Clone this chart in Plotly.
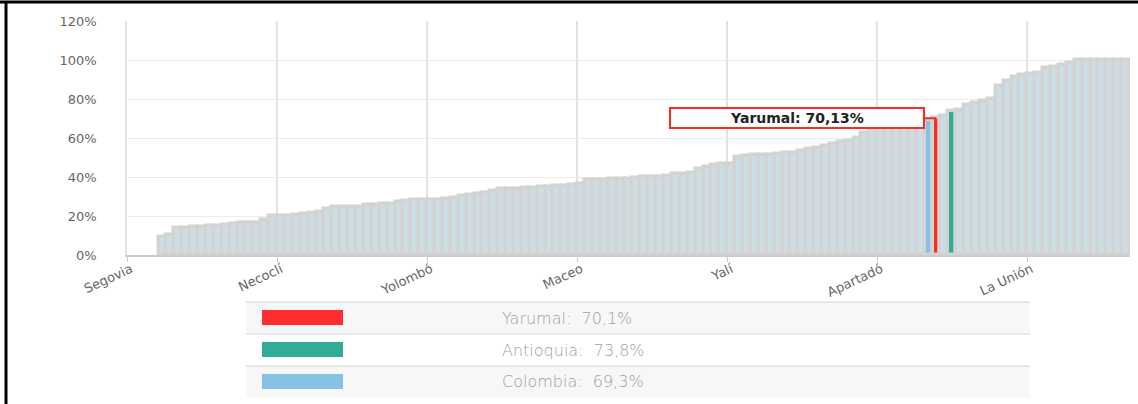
import plotly.graph_objects as go

# Percent per municipality, sorted ascending
values = [
    0, 0, 0, 0, 9.3, 10.5, 13.8, 14.0, 14.2, 14.5,
    14.8, 15.0, 15.4, 15.8, 16.2, 16.4, 16.5, 18.2, 19.8, 20.0,
    20.2, 20.4, 21.0, 21.6, 22.3, 23.4, 24.4, 24.4, 24.5, 24.8,
    25.5, 25.7, 26.2, 26.4, 27.4, 27.9, 28.0, 28.0, 28.1, 28.2,
    28.7, 29.4, 30.4, 30.7, 31.3, 31.9, 33.0, 33.6, 33.7, 33.8,
    34.3, 34.5, 34.9, 35.1, 35.3, 35.6, 35.8, 36.4, 38.4, 38.6,
    38.7, 39.0, 39.1, 39.2, 39.5, 39.8, 40.0, 40.2, 40.5, 41.4,
    41.6, 42.2, 43.9, 45.3, 46.0, 46.5, 46.9, 50.5, 51.0, 51.1,
    51.3, 51.5, 51.8, 52.1, 52.3, 53.3, 54.2, 55.0, 55.8, 57.0,
    57.8, 58.5, 60.0, 62.5, 63.8, 65.3, 65.8, 66.4, 67.0, 67.8,
    68.6, 69.3, 70.13, 71.3, 73.8, 74.2, 76.9, 77.8, 79.0, 80.2,
    86.7, 89.4, 91.5, 92.3, 92.8, 93.2, 95.7, 96.2, 97.2, 98.3,
    100, 100, 100, 100, 100, 100, 100,
]

# names that can be read in the picture, by position
known_names = {
    0: "Segovia", 19: "Necoclí", 38: "Yolombó", 57: "Maceo", 76: "Yalí",
    95: "Apartadó", 101: "Colombia", 102: "Yarumal", 104: "Antioquia",
    114: "La Unión",
}
names = [known_names.get(i, f"Municipio {i + 1}") for i in range(len(values))]

highlight = {"Yarumal": "#ff2a1e", "Antioquia": "#31ab95", "Colombia": "#84c3e6"}
legend_rows = ["Yarumal:  70,1%", "Antioquia:  73,8%", "Colombia:  69,3%"]
legend_colors = ["#ff2d2d", "#31ad97", "#86c2e3"]

bar_colors = [highlight.get(n, "#cbdee6") for n in names]
bar_lines = [3.5 if v > 0 else 0 for v in values]

# plot area in pixels
W, H = 1138, 404
ML, MR, MT, MB = 127, 8, 21, 149
PW, PH = W - ML - MR, H - MT - MB


def px(x):
    return (x - ML) / PW


def py(y):
    return (H - MB - y) / PH


fig = go.Figure()
fig.add_trace(go.Bar(
    x=names,
    y=values,
    marker=dict(color=bar_colors, line=dict(color="#d3d3d3", width=bar_lines)),
    hovertemplate="%{x}: %{y:.2f}%<extra></extra>",
))

fig.add_annotation(
    x="Yarumal", y=70.13, ax=-140, ay=0,
    text="<b>Yarumal: 70,13%</b>",
    font=dict(family="DejaVu Sans", size=14, color="#222"),
    bgcolor="white", bordercolor="#ff2a1e", borderwidth=2,
    width=250, height=16,
    showarrow=True, arrowhead=0, arrowcolor="#ff2a1e", arrowwidth=2,
)

shapes = [
    # page frame
    dict(type="line", xref="paper", yref="paper", x0=px(0), x1=px(W), y0=py(2), y1=py(2),
         line=dict(color="black", width=3)),
    dict(type="line", xref="paper", yref="paper", x0=px(6), x1=px(6), y0=py(2), y1=py(H),
         line=dict(color="black", width=3)),
]

# legend table below the chart
row_top = [302, 334, 366]
row_h = 31.5
for k, (label, col) in enumerate(zip(legend_rows, legend_colors)):
    t = row_top[k]
    if k != 1:
        shapes.append(dict(type="rect", xref="paper", yref="paper",
                           x0=px(246), x1=px(1030), y0=py(t), y1=py(t + row_h),
                           fillcolor="#f7f7f7", line=dict(width=0), layer="below"))
    shapes.append(dict(type="line", xref="paper", yref="paper",
                       x0=px(246), x1=px(1030), y0=py(t), y1=py(t),
                       line=dict(color="#e2e2e2", width=1.5)))
    shapes.append(dict(type="rect", xref="paper", yref="paper",
                       x0=px(262), x1=px(343), y0=py(t + 8), y1=py(t + 23),
                       fillcolor=col, line=dict(width=0)))
    fig.add_annotation(
        xref="paper", yref="paper", x=px(500), y=py(t + 16),
        xanchor="left", yanchor="middle", showarrow=False,
        text=label.replace("  ", " &nbsp;"),
        font=dict(family="DejaVu Sans", size=16, color="#a0a0a0", weight=200),
    )

fig.update_layout(
    width=W, height=H,
    margin=dict(l=ML, r=MR, t=MT, b=MB),
    paper_bgcolor="white", plot_bgcolor="white",
    bargap=0,
    showlegend=False,
    shapes=shapes,
    font=dict(family="DejaVu Sans", color="#666"),
)
fig.update_xaxes(
    type="category", tickmode="linear", tick0=0, dtick=19,
    tickson="boundaries", tickangle=-25, automargin=False,
    tickfont=dict(size=13, color="#666"),
    showgrid=True, gridcolor="#e2e2e2", gridwidth=1.5,
    showline=True, linecolor="#cccccc", linewidth=1.5,
    ticks="outside", ticklen=5, tickcolor="#cccccc",
)
fig.update_yaxes(
    range=[0, 120], dtick=20, ticksuffix="%", automargin=False,
    tickfont=dict(size=13, color="#666"),
    showgrid=True, gridcolor="#ececec", gridwidth=1,
    showline=True, linecolor="#e2e2e2", linewidth=1.5,
    zeroline=False, ticklabelstandoff=26,
)

# drop the browser's default page margin so the figure sits at the corner
fig.write_html(
    "out.html",
    config={"displayModeBar": False},
    post_script="document.body.style.margin = '0';",
)
